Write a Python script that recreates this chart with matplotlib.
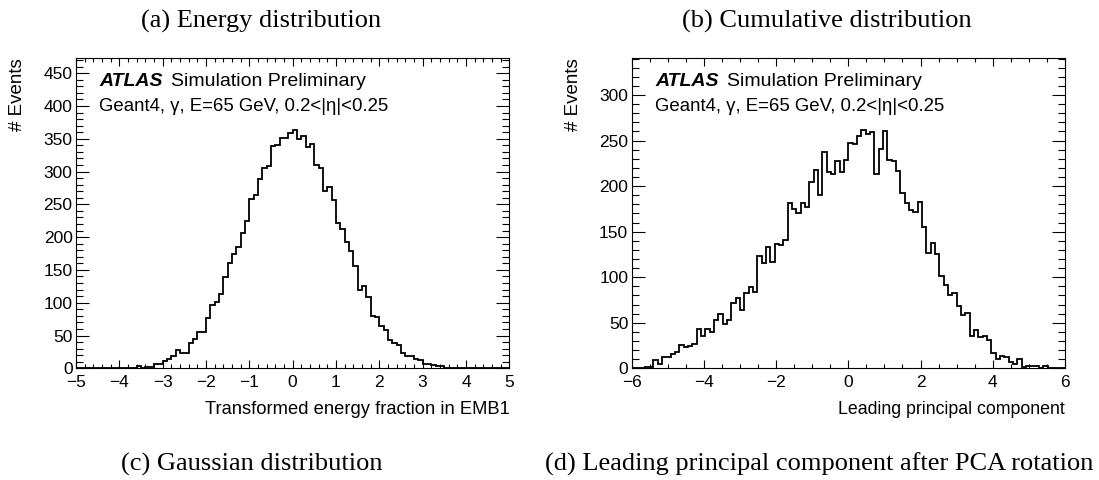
import numpy as np
import matplotlib
matplotlib.use("Agg")
import matplotlib.pyplot as plt
from matplotlib.ticker import MultipleLocator

# ---------------- data ----------------
energy_edges_range = (-5.0, 5.0)
energy_counts = [
    0, 0, 0, 0, 0, 0, 1, 0, 0, 0,
    1, 0, 1, 1, 3, 1, 2, 2, 7, 7,
    11, 14, 19, 28, 24, 24, 38, 45, 56, 56,
    77, 96, 101, 114, 139, 160, 175, 185, 206, 224,
    258, 265, 288, 306, 308, 339, 341, 351, 351, 359,
    364, 349, 355, 338, 342, 310, 306, 270, 277, 256,
    222, 212, 192, 179, 156, 119, 126, 109, 80, 78,
    65, 58, 43, 38, 35, 23, 18, 18, 14, 12,
    7, 7, 5, 3, 3, 1, 1, 0, 0, 0,
    0, 1, 0, 0, 0, 0, 0, 0, 0, 0,
]

pca_edges_range = (-6.0, 6.0)
pca_counts = [
    0, 0, 0, 1, 1, 9, 5, 12, 12, 16,
    18, 26, 23, 24, 27, 43, 36, 43, 40, 53,
    60, 49, 53, 72, 77, 64, 83, 89, 84, 123,
    116, 133, 117, 136, 135, 141, 181, 175, 170, 181,
    177, 204, 218, 190, 237, 215, 213, 227, 216, 229,
    247, 246, 255, 262, 257, 259, 213, 241, 260, 229,
    227, 217, 192, 181, 174, 172, 183, 155, 127, 137,
    125, 101, 91, 80, 83, 68, 59, 61, 36, 42,
    34, 36, 31, 17, 10, 14, 12, 7, 5, 10,
    1, 2, 3, 3, 0, 2, 0, 0, 0, 0,
]

left_xticks = [-5, -4, -3, -2, -1, 0, 1, 2, 3, 4, 5]
right_xticks = [-6, -4, -2, 0, 2, 4, 6]
left_yticks = [0, 50, 100, 150, 200, 250, 300, 350, 400, 450]
right_yticks = [0, 50, 100, 150, 200, 250, 300]

left_xlabel = "Transformed energy fraction in EMB1"
right_xlabel = "Leading principal component"
ylabel = "# Events"
atlas_line2 = "Geant4, γ, E=65 GeV, 0.2<|η|<0.25"
captions_top = ["(a) Energy distribution", "(b) Cumulative distribution"]
captions_bottom = ["(c) Gaussian distribution",
                   "(d) Leading principal component after PCA rotation"]

# ---------------- figure ----------------
W, H = 1099, 480
fig = plt.figure(figsize=(W / 100, H / 100), dpi=100)

SANS = "Liberation Sans"
SERIF = "Liberation Serif"


def fx(px):
    return px / W


def fy(py):
    return 1 - py / H


def make_axes(x0, x1, y0, y1):
    return fig.add_axes([fx(x0), fy(y1), fx(x1) - fx(x0), fy(y0) - fy(y1)])


axL = make_axes(76.0, 509.3, 58.0, 368.3)
axR = make_axes(631.7, 1064.9, 58.0, 368.3)


def style(ax, counts, rng, xticks, yticks, xminor, yminor, xlabel, xlab_size, ylab_x):
    edges = np.linspace(rng[0], rng[1], len(counts) + 1)
    ax.stairs(counts, edges, color="black", linewidth=1.3, baseline=None)
    ax.set_xlim(rng)
    ax.set_ylim(0, max(counts) * 1.3)
    ax.set_xticks(xticks)
    ax.set_yticks(yticks)
    ax.xaxis.set_minor_locator(MultipleLocator(xminor))
    ax.yaxis.set_minor_locator(MultipleLocator(yminor))
    ax.tick_params(which="both", direction="in", top=True, right=True,
                   labelsize=12.5, width=0.8)
    ax.tick_params(axis="x", which="major", length=6, pad=5)
    ax.tick_params(axis="x", which="minor", length=3)
    ax.tick_params(axis="y", which="major", length=9.5, pad=2.5)
    ax.tick_params(axis="y", which="minor", length=4.8)
    for lab in ax.get_xticklabels() + ax.get_yticklabels():
        lab.set_fontfamily(SANS)
    for sp in ax.spines.values():
        sp.set_linewidth(0.8)
    pos = ax.get_position()
    fig.text(pos.x1, fy(410), xlabel, ha="right", va="center",
             fontsize=xlab_size, fontfamily=SANS)
    fig.text(fx(ylab_x), pos.y1, ylabel, rotation=90, ha="center", va="top",
             fontsize=13.5, fontfamily=SANS)


style(axL, energy_counts, energy_edges_range, left_xticks, left_yticks,
      0.2, 10, left_xlabel, 13.2, 18)
style(axR, pca_counts, pca_edges_range, right_xticks, right_yticks,
      0.5, 10, right_xlabel, 12.8, 574)

# ATLAS labels
for x0 in (99, 655):
    fig.text(fx(x0), fy(82), "ATLAS", fontsize=14, fontweight="bold",
             fontstyle="italic", fontfamily=SANS, ha="left", va="center")
    fig.text(fx(x0 + 72), fy(82), "Simulation Preliminary", fontsize=14,
             fontfamily=SANS, ha="left", va="center")
    fig.text(fx(x0), fy(106.5), atlas_line2, fontsize=13.4,
             fontfamily=SANS, ha="left", va="center")

# captions
CAP = 19
fig.text(fx(261), fy(21), captions_top[0], fontsize=CAP, fontfamily=SERIF,
         ha="center", va="center")
fig.text(fx(827), fy(21), captions_top[1], fontsize=CAP, fontfamily=SERIF,
         ha="center", va="center")
fig.text(fx(252), fy(464), captions_bottom[0], fontsize=CAP, fontfamily=SERIF,
         ha="center", va="center")
fig.text(fx(819), fy(464), captions_bottom[1], fontsize=CAP, fontfamily=SERIF,
         ha="center", va="center")

fig.savefig("out.png", dpi=100)
